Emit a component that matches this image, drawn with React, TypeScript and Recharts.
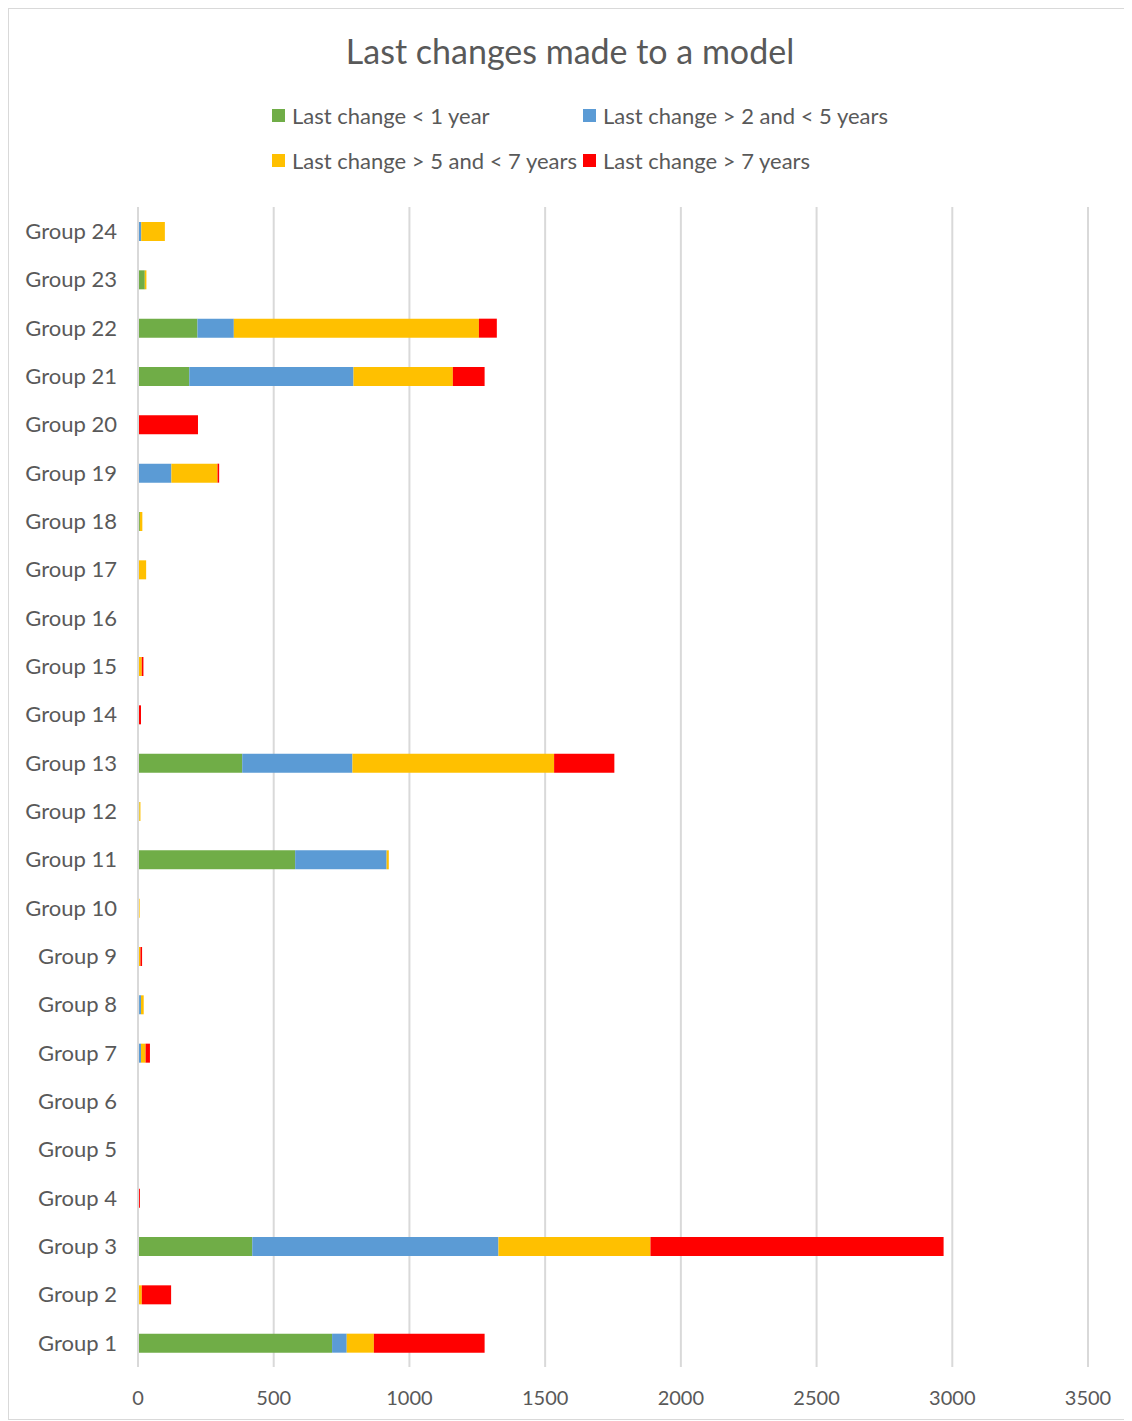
import { BarChart, Bar, XAxis, YAxis, CartesianGrid } from 'recharts';

const groups = [
  'Group 1', 'Group 2', 'Group 3', 'Group 4', 'Group 5', 'Group 6', 'Group 7', 'Group 8',
  'Group 9', 'Group 10', 'Group 11', 'Group 12', 'Group 13', 'Group 14', 'Group 15', 'Group 16',
  'Group 17', 'Group 18', 'Group 19', 'Group 20', 'Group 21', 'Group 22', 'Group 23', 'Group 24',
];

// values per group, Group 1 .. Group 24
const lessThan1 = [715, 0, 421, 0, 0, 0, 0, 4, 0, 0, 579, 5, 384, 0, 0, 0, 0, 7, 0, 0, 189, 219, 25, 0];
const from2to5 = [54, 0, 907, 0, 0, 0, 11, 7, 0, 0, 337, 0, 406, 0, 0, 0, 0, 0, 123, 0, 605, 134, 0, 12];
const from5to7 = [100, 14, 560, 0, 0, 0, 17, 10, 9, 6, 8, 4, 743, 3, 14, 0, 30, 9, 170, 0, 366, 903, 6, 87];
const over7 = [408, 108, 1080, 7, 0, 0, 16, 0, 6, 0, 0, 0, 222, 8, 6, 0, 0, 0, 6, 221, 117, 66, 0, 0];

const xTicks = [0, 500, 1000, 1500, 2000, 2500, 3000, 3500];

const seriesNames = [
  'Last change < 1 year',
  'Last change > 2 and < 5 years',
  'Last change > 5 and < 7 years',
  'Last change > 7 years',
];
const colors = ['#70ad47', '#5b9bd5', '#ffc000', '#ff0000'];

const data = groups.map((g, i) => ({
  group: g,
  a: lessThan1[i],
  b: from2to5[i],
  c: from5to7[i],
  d: over7[i],
}));

const font = 'Lato, "Noto Sans", sans-serif';
const textColor = '#595959';

function LegendBox() {
  return (
    <div
      style={{
        position: 'absolute',
        top: 94,
        left: 263,
        display: 'grid',
        gridTemplateColumns: '311px 311px',
        rowGap: 20,
        fontFamily: font,
        fontSize: 22,
        color: textColor,
      }}
    >
      {seriesNames.map((n, i) => (
        <div key={n} style={{ display: 'flex', alignItems: 'center', height: 25, whiteSpace: 'nowrap' }}>
          <span style={{ width: 13, height: 13, background: colors[i], marginRight: 7, display: 'inline-block' }} />
          {n}
        </div>
      ))}
    </div>
  );
}

export default function App() {
  return (
    <div
      style={{
        position: 'relative',
        width: 1122,
        height: 1410,
        border: '1px solid #d9d9d9',
        background: '#fff',
      }}
    >
      <div
        style={{
          position: 'absolute',
          top: 21,
          left: 0,
          width: 1122,
          textAlign: 'center',
          fontFamily: font,
          fontSize: 34,
          color: textColor,
        }}
      >
        Last changes made to a model
      </div>
      <LegendBox />
      <BarChart
        width={1122}
        height={1410}
        data={data}
        layout="vertical"
        margin={{ top: 198, right: 43, bottom: 22, left: 0 }}
      >
        <CartesianGrid horizontal={false} stroke="#d9d9d9" strokeWidth={2} />
        <XAxis
          type="number"
          domain={[0, 3500]}
          ticks={xTicks}
          axisLine={false}
          tickLine={false}
          tickMargin={18}
          height={30}
          tick={{ fill: textColor, fontSize: 20, fontFamily: font }}
        />
        <YAxis
          type="category"
          dataKey="group"
          reversed
          width={129}
          axisLine={{ stroke: '#d9d9d9', strokeWidth: 2 }}
          tickLine={false}
          tickSize={0}
          tickMargin={21}
          interval={0}
          tick={{ fill: textColor, fontSize: 22, fontFamily: font }}
        />
        <Bar dataKey="a" name={seriesNames[0]} stackId="s" fill={colors[0]} barSize={19} isAnimationActive={false} />
        <Bar dataKey="b" name={seriesNames[1]} stackId="s" fill={colors[1]} barSize={19} isAnimationActive={false} />
        <Bar dataKey="c" name={seriesNames[2]} stackId="s" fill={colors[2]} barSize={19} isAnimationActive={false} />
        <Bar dataKey="d" name={seriesNames[3]} stackId="s" fill={colors[3]} barSize={19} isAnimationActive={false} />
      </BarChart>
    </div>
  );
}
